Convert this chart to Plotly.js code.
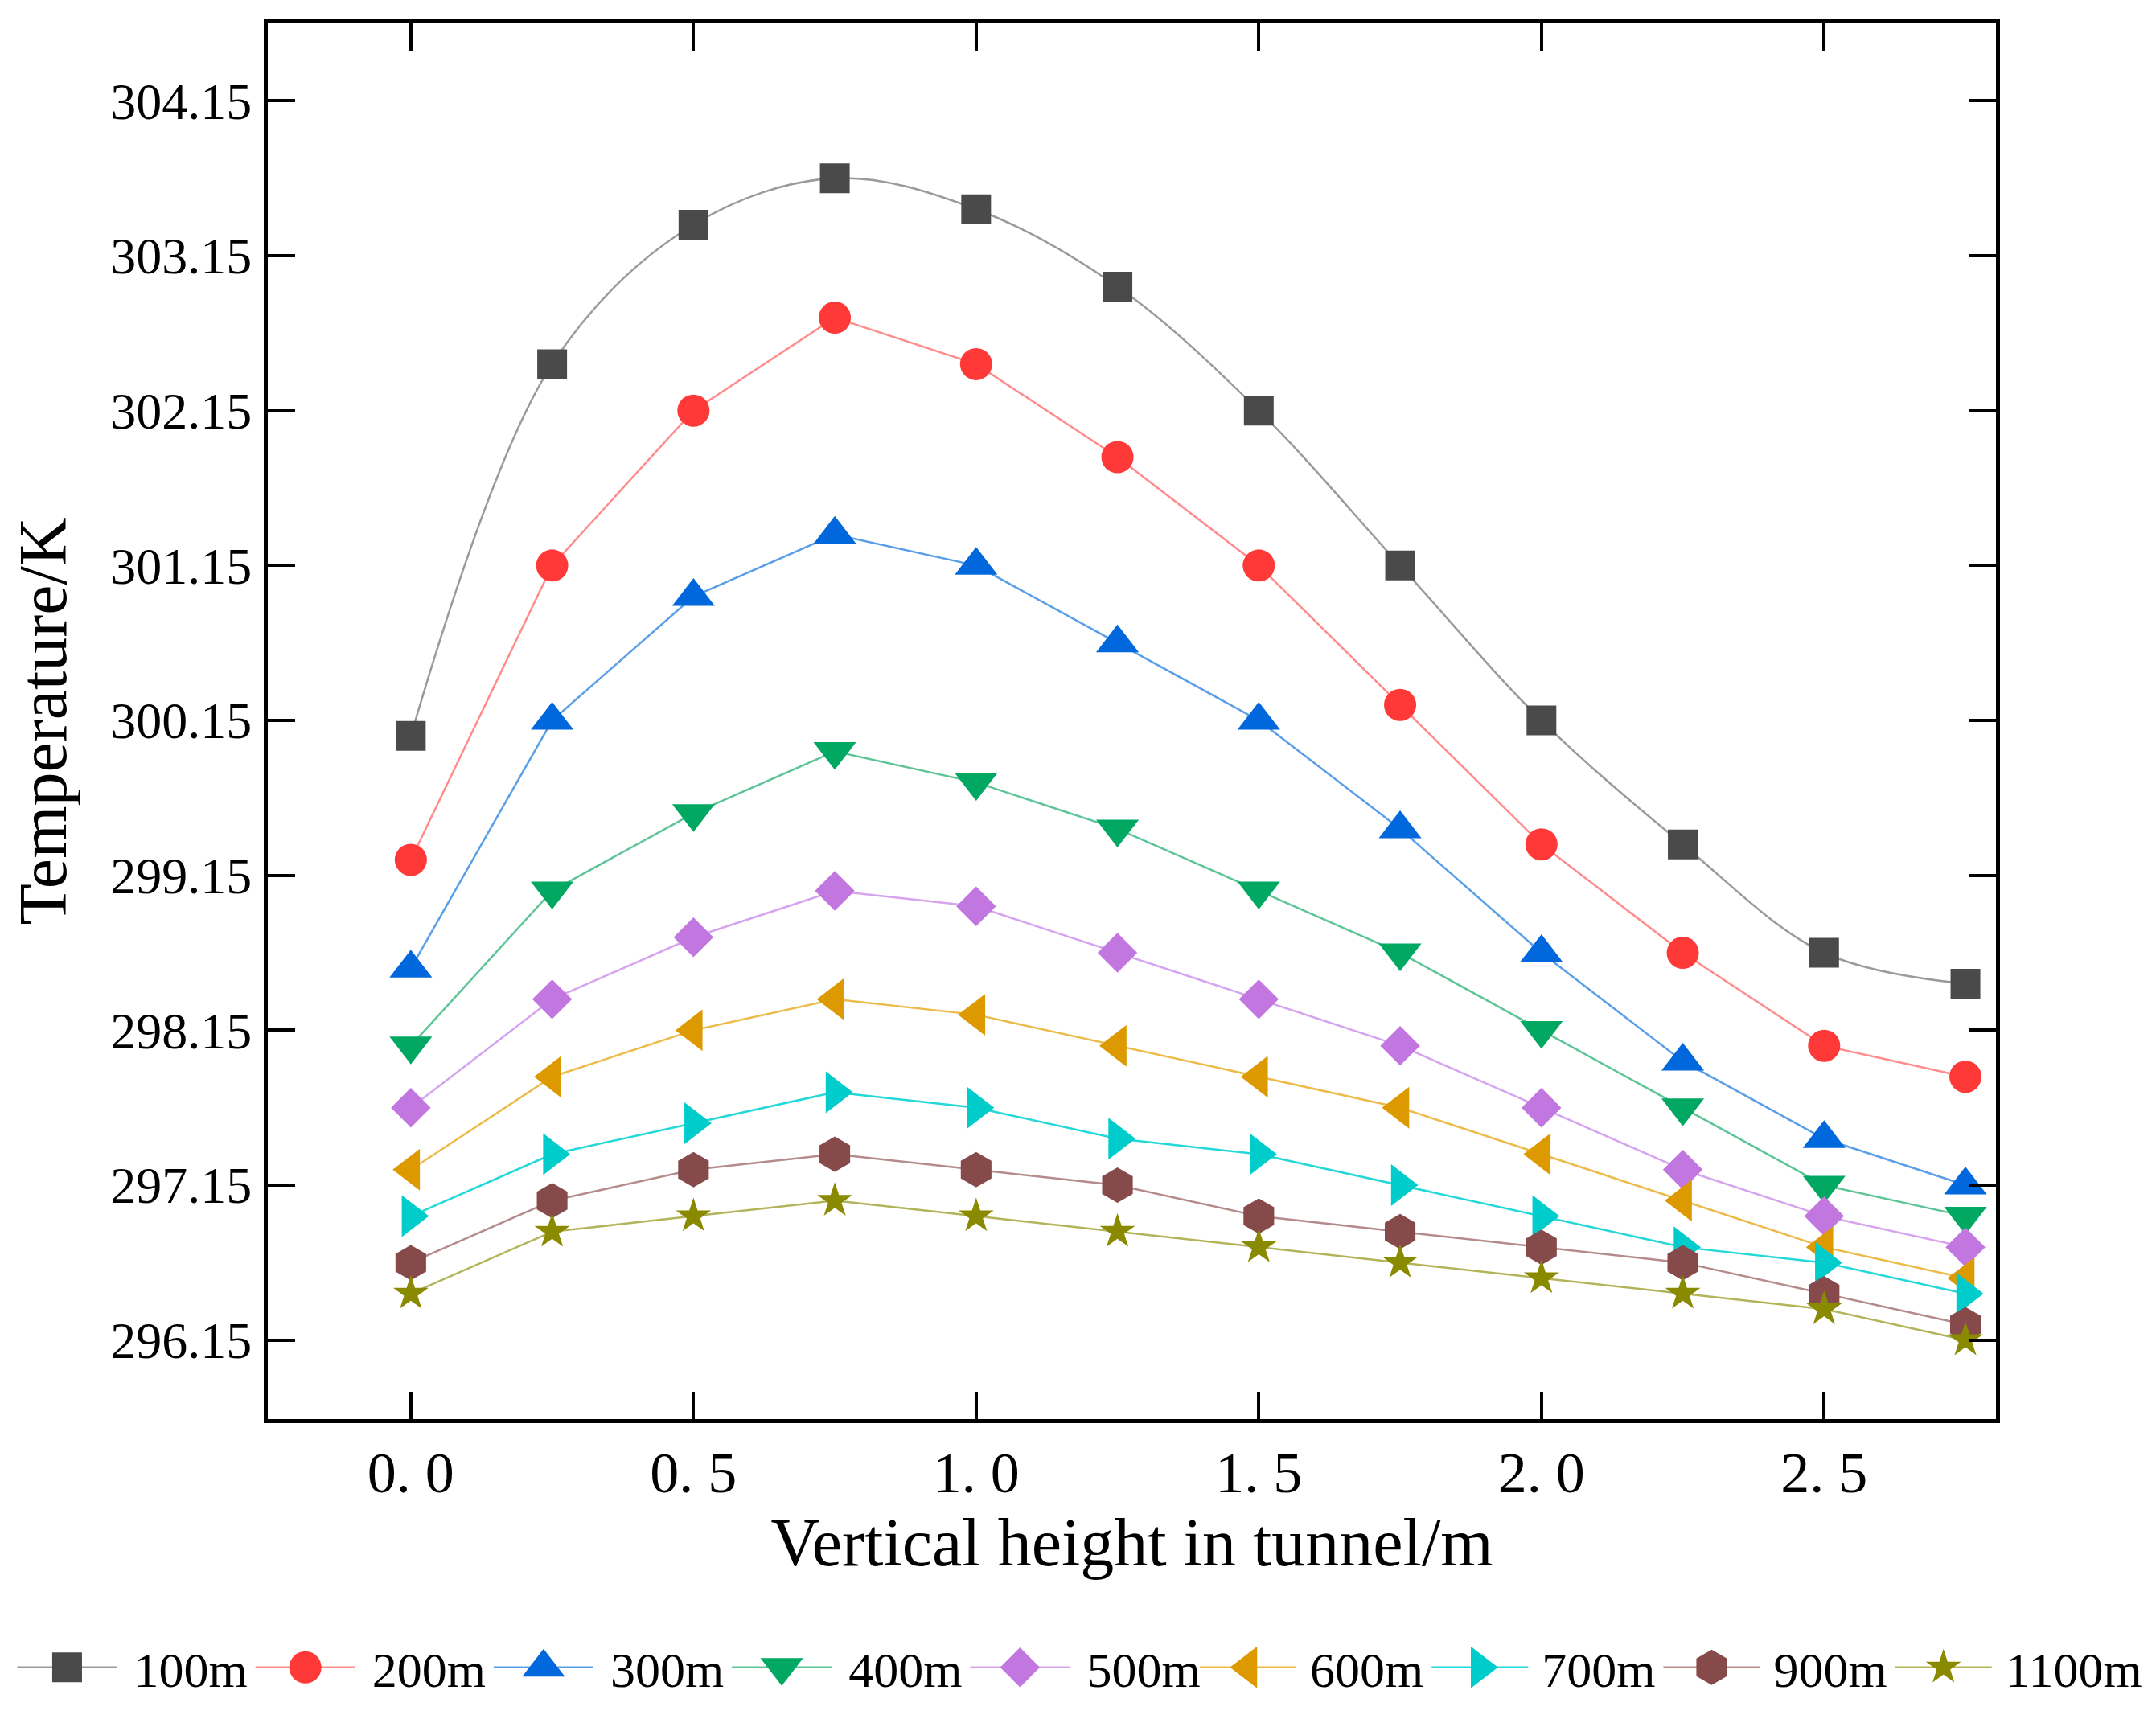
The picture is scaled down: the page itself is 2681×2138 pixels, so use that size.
<!DOCTYPE html>
<html>
<head>
<meta charset="utf-8">
<script src="https://cdn.plot.ly/plotly-3.0.1.min.js"></script>
<style>html,body{margin:0;padding:0;background:#fff;}#chart{width:2681px;height:2138px;}</style>
</head>
<body>
<div id="chart"></div>
<script>
// Vertical height in tunnel (m)
const heights = [0, 0.25, 0.5, 0.75, 1.0, 1.25, 1.5, 1.75, 2.0, 2.25, 2.5, 2.75];
// Temperature (K) at each distance
const t100  = [300.05, 302.45, 303.35, 303.65, 303.45, 302.95, 302.15, 301.15, 300.15, 299.35, 298.65, 298.45];
const t200  = [299.25, 301.15, 302.15, 302.75, 302.45, 301.85, 301.15, 300.25, 299.35, 298.65, 298.05, 297.85];
const t300  = [298.55, 300.15, 300.95, 301.35, 301.15, 300.65, 300.15, 299.45, 298.65, 297.95, 297.45, 297.15];
const t400  = [298.05, 299.05, 299.55, 299.95, 299.75, 299.45, 299.05, 298.65, 298.15, 297.65, 297.15, 296.95];
const t500  = [297.65, 298.35, 298.75, 299.05, 298.95, 298.65, 298.35, 298.05, 297.65, 297.25, 296.95, 296.75];
const t600  = [297.25, 297.85, 298.15, 298.35, 298.25, 298.05, 297.85, 297.65, 297.35, 297.05, 296.75, 296.55];
const t700  = [296.95, 297.35, 297.55, 297.75, 297.65, 297.45, 297.35, 297.15, 296.95, 296.75, 296.65, 296.45];
const t900  = [296.65, 297.05, 297.25, 297.35, 297.25, 297.15, 296.95, 296.85, 296.75, 296.65, 296.45, 296.25];
const t1100 = [296.45, 296.85, 296.95, 297.05, 296.95, 296.85, 296.75, 296.65, 296.55, 296.45, 296.35, 296.15];

const seriesNames = ['100m', '200m', '300m', '400m', '500m', '600m', '700m', '900m', '1100m'];
const seriesValues = [t100, t200, t300, t400, t500, t600, t700, t900, t1100];

const xTickVals = [0, 0.5, 1.0, 1.5, 2.0, 2.5];
const xTickText = ['0. 0', '0. 5', '1. 0', '1. 5', '2. 0', '2. 5'];
const yTickVals = [296.15, 297.15, 298.15, 299.15, 300.15, 301.15, 302.15, 303.15, 304.15];
const yTickText = ['296.15', '297.15', '298.15', '299.15', '300.15', '301.15', '302.15', '303.15', '304.15'];

// styles
const markerColors = ['#4a4a4a', '#ff3838', '#0068dc', '#00a862', '#c277e0', '#dc9a00', '#00cccc', '#874a4a', '#8a8a00'];
const lineColors   = ['#9a9a9a', '#ff8c8c', '#5a9ee8', '#5cc496', '#d6a3ee', '#ecbb4a', '#22d8d8', '#b58a8a', '#b3b35a'];
const symbols = ['square', 'circle', 'triangle-up', 'triangle-down', 'diamond', 'triangle-left', 'triangle-right', 'hexagon', 'star'];
const sizes = [37, 40, 46, 46, 38, 45, 45, 44, 33];
const shapes = ['spline', 'linear', 'linear', 'linear', 'linear', 'linear', 'linear', 'linear', 'linear'];
// first five entries in the first legend box, the rest in a second box on the same row
const legendIds = ['legend', 'legend', 'legend', 'legend', 'legend', 'legend2', 'legend2', 'legend2', 'legend2'];
const legendLineLen = {legend: 124, legend2: 120};

const FONT = 'Liberation Serif, Times New Roman, serif';

const traces = seriesNames.map((name, i) => ({
  type: 'scatter',
  mode: 'lines+markers',
  name: name,
  legend: legendIds[i],
  x: heights,
  y: seriesValues[i],
  line: {color: lineColors[i], width: 2.5, shape: shapes[i], smoothing: 1},
  marker: {symbol: symbols[i], size: sizes[i], color: markerColors[i], line: {width: 0}},
  cliponaxis: false
}));

const axisCommon = {
  showline: true, linecolor: '#000', linewidth: 5, mirror: 'allticks',
  ticks: 'inside', ticklen: 34, tickwidth: 4, tickcolor: '#000',
  showgrid: false, zeroline: false
};

const legendCommon = {
  orientation: 'h', xanchor: 'left', y: -0.178, yanchor: 'middle',
  font: {family: FONT, size: 62, color: '#000'},
  bgcolor: 'rgba(0,0,0,0)', borderwidth: 0
};

const layout = {
  width: 2681, height: 2138,
  paper_bgcolor: '#fff', plot_bgcolor: '#fff',
  margin: {l: 333, r: 196, t: 29, b: 373, pad: 0},
  font: {family: FONT, color: '#000'},
  showlegend: true,
  legend: Object.assign({}, legendCommon, {x: -0.1473, itemwidth: 140}),
  legend2: Object.assign({}, legendCommon, {x: 0.537, itemwidth: 132}),
  xaxis: Object.assign({}, axisCommon, {
    range: [-0.253, 2.804],
    tickmode: 'array', tickvals: xTickVals, ticktext: xTickText,
    tickfont: {family: FONT, size: 72, color: '#000'},
    ticklabelstandoff: 0,
    title: {text: 'Vertical height in tunnel/m', font: {family: FONT, size: 84, color: '#000'}, standoff: 0}
  }),
  yaxis: Object.assign({}, axisCommon, {
    range: [295.64, 304.65],
    tickmode: 'array', tickvals: yTickVals, ticktext: yTickText,
    tickfont: {family: FONT, size: 64, color: '#000'},
    ticklabelstandoff: 2,
    title: {text: 'Temperature/K', font: {family: FONT, size: 84, color: '#000'}, standoff: 28}
  })
};

Plotly.newPlot('chart', traces, layout, {displayModeBar: false, staticPlot: true}).then(function (gd) {
  // legend symbols: longer line, marker at its centre and at the plot marker size (Plotly caps it at 16px)
  gd.querySelectorAll('.infolayer g.traces').forEach(function (g, k) {
    const d = g.__data__;
    const idx = (d && d[0] && d[0].trace) ? d[0].trace.index : k;
    const L = legendLineLen[legendIds[idx]];
    g.querySelectorAll('g.legendlines path').forEach(function (p) {
      p.setAttribute('d', 'M5,0h' + L);
    });
    g.querySelectorAll('.legendpoints path.scatterpts').forEach(function (p) {
      p.setAttribute('transform', 'translate(' + (5 + L / 2) + ',0) scale(' + (sizes[idx] / 16).toFixed(3) + ')');
    });
  });
});
</script>
</body>
</html>
